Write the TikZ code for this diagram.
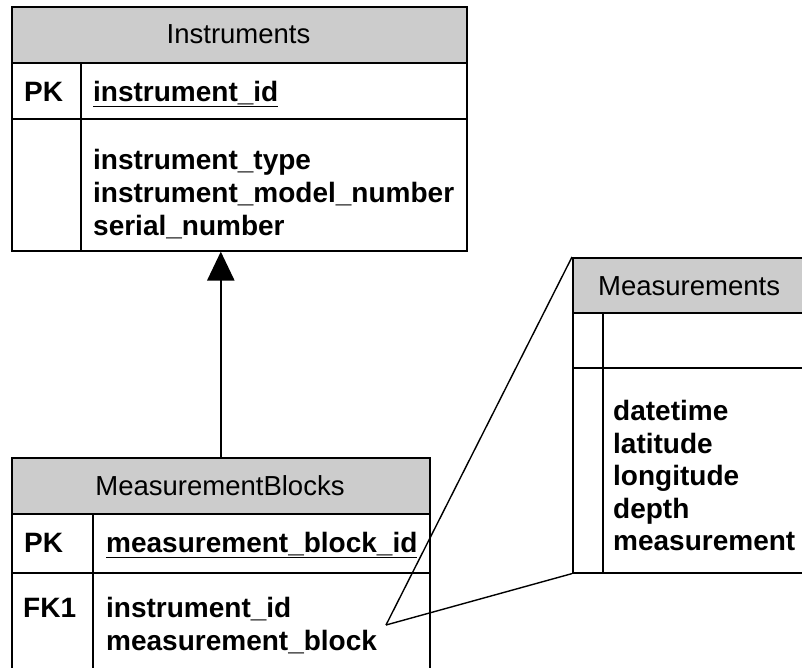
\documentclass[tikz,border=0pt]{standalone}
\usepackage{fontspec}
\setmainfont{Liberation Sans}
\usetikzlibrary{arrows.meta}
\begin{document}
\begin{tikzpicture}[x=1pt,y=-1pt,
  tbl/.style={draw=black, line width=1.6pt, anchor=north west, inner sep=0pt},
  hdr/.style={draw=black, line width=1.6pt, fill=hdrgray, anchor=north west, inner sep=0pt},
  hdrtext/.style={font=\fontsize{27.5}{32}\selectfont, inner sep=0pt, anchor=base},
  fld/.style={font=\bfseries\fontsize{28}{32}\selectfont, anchor=base west, inner sep=0pt},
  link/.style={line width=1.4pt},
  rel/.style={line width=2.6pt, -{Triangle[length=29pt,width=27pt]}}]
\definecolor{hdrgray}{HTML}{CCCCCC}
\useasboundingbox (0,0) rectangle (802,667);
\clip (0,0) rectangle (802,667);

% ---- Instruments ----
\node[tbl, minimum width=455pt, minimum height=244pt] (inst) at (11,6) {};
\node[hdr, minimum width=455pt, minimum height=56pt] (insthdr) at (11,6) {};
\node[hdrtext] (insttitle) at (238.5,43) {Instruments};
\draw[line width=1.6pt] (11,119) -- (466,119);
\draw[line width=1.6pt] (81,62) -- (81,250);
\node[fld] (instpk) at (24,101) {PK};
\node[fld] (instid) at (93,101) {\underline{instrument\_id}};
\node[fld] (insttype) at (93,169) {instrument\_type};
\node[fld] (instmodel) at (93,202) {instrument\_model\_number};
\node[fld] (instserial) at (93,235) {serial\_number};

% ---- MeasurementBlocks ----
\node[tbl, minimum width=418pt, minimum height=240pt] (blk) at (11,457) {};
\node[hdr, minimum width=418pt, minimum height=56pt] (blkhdr) at (11,457) {};
\node[hdrtext] (blktitle) at (220,495) {MeasurementBlocks};
\draw[line width=1.6pt] (11,573) -- (429,573);
\draw[line width=1.6pt] (93,513) -- (93,697);
\node[fld] (blkpk) at (24,552) {PK};
\node[fld] (blkid) at (106,552) {\underline{measurement\_block\_id}};
\node[fld] (blkfk) at (23,617) {FK1};
\node[fld] (blkinst) at (106,617) {instrument\_id};
\node[fld] (blkblock) at (106,650) {measurement\_block};

% ---- Measurements ----
\node[tbl, minimum width=260pt, minimum height=315pt] (meas) at (572,257) {};
\node[hdr, minimum width=260pt, minimum height=55pt] (meashdr) at (572,257) {};
\node[hdrtext, anchor=base west] (meastitle) at (598,295) {Measurements};
\draw[line width=1.6pt] (572,368) -- (832,368);
\draw[line width=1.6pt] (603,312) -- (603,572);
\node[fld] (mdt) at (613,420) {datetime};
\node[fld] (mlat) at (613,453) {latitude};
\node[fld] (mlon) at (613,485) {longitude};
\node[fld] (mdep) at (613,518) {depth};
\node[fld] (mval) at (613,550) {measurement};

% ---- relationships ----
\draw[rel] (blk.north) -- (blk.north |- inst.south);
\coordinate (blkend) at (386,625);
\draw[link] (blkend) -- (meas.north west);
\draw[link] (blkend) -- (meas.south west);
\end{tikzpicture}
\end{document}
